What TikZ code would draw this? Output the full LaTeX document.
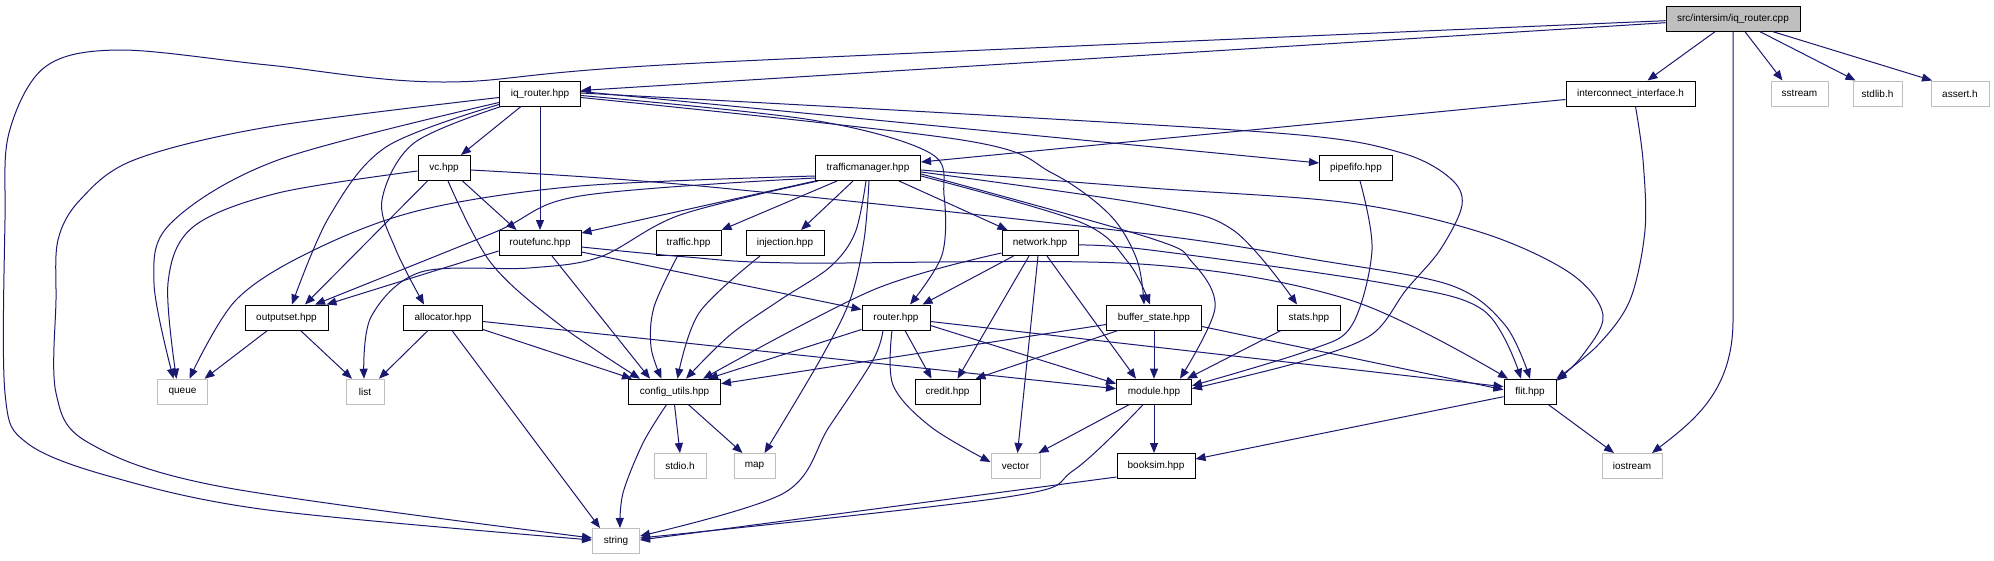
\documentclass[tikz,border=0pt]{standalone}
\usepackage{fontspec}
\setmainfont{Liberation Sans}
\usetikzlibrary{arrows.meta,calc}
\definecolor{eb}{HTML}{191970}
\definecolor{lg}{HTML}{BFBFBF}
\begin{document}
\begin{tikzpicture}[x=1pt,y=-1pt,
  hdr/.style={draw=black, line width=1pt, fill=white, minimum height=25pt, inner sep=0pt, font=\fontsize{10}{12}\selectfont},
  sys/.style={hdr, draw=lg},
  rootn/.style={hdr, fill=lg},
  e/.style={draw=eb, line width=1pt, -{Triangle[length=10pt,width=8pt]}},
  sm/.style={smooth, tension=0.55}]
\useasboundingbox (0,0) rectangle (1994,560);
\fill[white] (0,0) rectangle (1994,560);
% nodes
\node[rootn, minimum width=134pt] (root) at (1733,18.7) {src/intersim/iq\_router.cpp};
\node[hdr, minimum width=81pt] (iqh) at (540,93.5) {iq\_router.hpp};
\node[hdr, minimum width=129pt] (ii) at (1630.5,93.5) {interconnect\_interface.h};
\node[sys, minimum width=57pt] (sstream) at (1799.5,93.5) {sstream};
\node[sys, minimum width=49pt] (stdlib) at (1877.5,93.5) {stdlib.h};
\node[sys, minimum width=58pt] (assert) at (1960,93.5) {assert.h};
\node[hdr, minimum width=52pt] (vc) at (444,168) {vc.hpp};
\node[hdr, minimum width=105pt] (tm) at (868,168) {trafficmanager.hpp};
\node[hdr, minimum width=73pt] (pipefifo) at (1356,168) {pipefifo.hpp};
\node[hdr, minimum width=82pt] (routefunc) at (540,243) {routefunc.hpp};
\node[hdr, minimum width=65pt] (traffic) at (688.5,243) {traffic.hpp};
\node[hdr, minimum width=78pt] (injection) at (785,243) {injection.hpp};
\node[hdr, minimum width=76pt] (network) at (1040,243) {network.hpp};
\node[hdr, minimum width=83pt] (outputset) at (286.5,317.5) {outputset.hpp};
\node[hdr, minimum width=79pt] (allocator) at (443,317.5) {allocator.hpp};
\node[hdr, minimum width=68pt] (router) at (896,317.5) {router.hpp};
\node[hdr, minimum width=95pt] (bs) at (1154,317.5) {buffer\_state.hpp};
\node[hdr, minimum width=63pt] (stats) at (1309,317.5) {stats.hpp};
\node[sys, minimum width=50pt] (queue) at (182.5,391.7) {queue};
\node[sys, minimum width=38pt] (list) at (365,391.7) {list};
\node[hdr, minimum width=92pt] (cu) at (674.5,391.7) {config\_utils.hpp};
\node[hdr, minimum width=65pt] (credit) at (947.5,391.7) {credit.hpp};
\node[hdr, minimum width=75pt] (module) at (1154,391.7) {module.hpp};
\node[hdr, minimum width=52pt] (flit) at (1530,391.7) {flit.hpp};
\node[sys, minimum width=52pt] (stdio) at (680,466) {stdio.h};
\node[sys, minimum width=41pt] (map) at (754.5,466) {map};
\node[sys, minimum width=49pt] (vector) at (1015.5,466) {vector};
\node[hdr, minimum width=78pt] (booksim) at (1156,466) {booksim.hpp};
\node[sys, minimum width=60pt] (iostream) at (1632,466) {iostream};
\node[sys, minimum width=47pt] (string) at (616,541) {string};
% edges from root
\draw[e] plot[sm] coordinates {($(root.west)+(0,2)$) (700,63) (446,82) (268,65) (120,50) (45,67) (9,133) (5,220) (5,393) (27,443) (112,477) (268,510) ($(string.west)+(0,-1)$)};
\draw[e] ($(root.west)+(0,4)$) -- ($(iqh.east)+(0,-3)$);
\draw[e] ($(root.south)+(-18,0)$) -- ($(ii.north)+(17,0)$);
\draw[e] ($(root.south)+(12,0)$) -- ($(sstream.north)+(-17,0)$);
\draw[e] ($(root.south)+(27,0)$) -- ($(stdlib.north)+(-22,0)$);
\draw[e] ($(root.south)+(40,0)$) -- ($(assert.north)+(-28,0)$);
\draw[e] (root.south) -- (1733,320) .. controls (1733,390) and (1695,420) .. ($(iostream.north)+(20,0)$);
% interconnect_interface
\draw[e] ($(ii.west)+(0,6)$) -- ($(tm.east)+(0,-6)$);
\draw[e] plot[sm] coordinates {($(ii.south)+(5,0)$) (1643,160) (1645,230) (1630,300) (1598,345) (flit.north east)};
% iq_router.hpp
\draw[e] plot[sm] coordinates {($(iqh.west)+(0,4)$) (268,127) (134,160) (80,200) (58,240) (56,300) (56,393) (89,443) (223,487) ($(string.west)+(0,-3)$)};
\draw[e] plot[sm] coordinates {($(iqh.west)+(0,9)$) (278,160) (171,223) (154,283) ($(queue.north)+(-9,0)$)};
\draw[e] plot[sm] coordinates {($(iqh.west)+(0,11)$) (386,147) (329,217) ($(outputset.north)+(5.5,0)$)};
\draw[e] plot[sm] coordinates {($(iqh.south west)+(2,0)$) (414,143) (382,200) (396,250) ($(allocator.north west)+(21,0)$)};
\draw[e] ($(iqh.south)+(-19,0)$) -- ($(vc.north)+(17,0)$);
\draw[e] (iqh.south) -- (routefunc.north);
\draw[e] ($(iqh.east)+(0,-2)$) -- ($(pipefifo.west)+(0,-5)$);
\draw[e] plot[sm] coordinates {($(iqh.east)+(0,-0.5)$) (1000,116) (1300,135) (1402,153) (1450,178) (1462,205) (1440,250) (1406,290) (1371,335) (1300,362) ($(module.east)+(0,-3)$)};
\draw[e] plot[sm] coordinates {($(iqh.east)+(0,2)$) (812,120) (930,153) (944,195) (942,255) ($(router.north)+(14,0)$)};
\draw[e] plot[sm] coordinates {($(iqh.east)+(0,4)$) (962,140) (1052,173) (1110,215) (1137,260) ($(bs.north)+(-10,0)$)};
% vc.hpp
\draw[e] plot[sm] coordinates {($(vc.west)+(0,3)$) (278,193) (193,227) (168,283) ($(queue.north)+(-6,0)$)};
\draw[e] ($(vc.south west)+(10,0)$) -- ($(outputset.north)+(18.5,0)$);
\draw[e] ($(vc.south east)+(-8,0)$) -- ($(routefunc.north west)+(18,0)$);
\draw[e] plot[sm] coordinates {($(vc.south)+(4,0)$) (491,263) (560,325) ($(cu.north west)+(12,0)$)};
\draw[e] plot[sm] coordinates {($(vc.east)+(0,2)$) (700,186) (1140,233) (1317,260) (1450,285) (1505,325) (flit.north)};
% trafficmanager.hpp
\draw[e] plot[sm] coordinates {($(tm.west)+(0,8)$) (580,186) (421,210) (314,250) (236,300) ($(queue.north)+(7,0)$)};
\draw[e] plot[sm] coordinates {($(tm.west)+(0,10)$) (580,196) (493,233) ($(outputset.north)+(28.5,0)$)};
\draw[e] (tm.south west) -- ($(routefunc.east)+(0,-10)$);
\draw[e] plot[sm] coordinates {($(tm.south west)+(3,0)$) (680,215) (600,257) (529,268) (421,272) (371,317) ($(list.north)+(-1,0)$)};
\draw[e] ($(tm.south west)+(22,0)$) -- (traffic.north east);
\draw[e] ($(tm.south west)+(38,0)$) -- ($(injection.north)+(16,0)$);
\draw[e] plot[sm] coordinates {($(tm.south)+(-2,0)$) (855,233) (830,267) (780,300) (730,335) ($(cu.north)+(11.5,0)$)};
\draw[e] plot[sm] coordinates {($(tm.south)+(1,0)$) (864,240) (850,300) (820,360) ($(map.north)+(10,0)$)};
\draw[e] ($(tm.south east)+(-22,0)$) -- ($(network.north west)+(6,0)$);
\draw[e] plot[sm] coordinates {($(tm.east)+(0,8)$) (1080,222) (1128,262) ($(bs.north)+(-4,0)$)};
\draw[e] plot[sm] coordinates {($(tm.east)+(0,6)$) (1150,238) (1192,262) (1215,308) ($(module.north east)+(-12,0)$)};
\draw[e] plot[sm] coordinates {($(tm.east)+(0,4)$) (1150,205) (1233,230) ($(stats.north)+(-12,0)$)};
\draw[e] plot[sm] coordinates {($(tm.east)+(0,2)$) (1150,188) (1350,203) (1483,233) (1570,273) (1603,315) (1582,356) ($(flit.north east)+(0,2)$)};
% pipefifo
\draw[e] plot[sm] coordinates {($(pipefifo.south)+(4,0)$) (1372,250) (1352,325) (1310,350) ($(module.east)+(0,-6)$)};
% routefunc
\draw[e] ($(routefunc.west)+(0,8)$) -- ($(outputset.north east)+(-2,0)$);
\draw[e] ($(routefunc.south)+(12,0)$) -- ($(cu.north west)+(22,0)$);
\draw[e] ($(routefunc.east)+(0,9)$) -- ($(router.west)+(0,-8)$);
\draw[e] plot[sm] coordinates {($(routefunc.east)+(0,4)$) (687,257) (794,263) (1140,264) (1350,300) ($(flit.north)+(-22,0)$)};
% traffic, injection
\draw[e] plot[sm] coordinates {($(traffic.south)+(-11,0)$) (654,307) (651,347) ($(cu.north)+(-13,0)$)};
\draw[e] plot[sm] coordinates {($(injection.south)+(-25,0)$) (699,313) ($(cu.north)+(3,0)$)};
% network
\draw[e] plot[sm] coordinates {($(network.west)+(0,10)$) (873,290) ($(cu.north)+(28.5,0)$)};
\draw[e] ($(network.south west)+(12,0)$) -- ($(router.north east)+(-8,0)$);
\draw[e] ($(network.south)+(-11,0)$) -- ($(credit.north)+(10,0)$);
\draw[e] ($(network.south)+(-2,0)$) -- ($(vector.north)+(2,0)$);
\draw[e] ($(network.south)+(7,0)$) -- ($(module.north west)+(20,0)$);
\draw[e] plot[sm] coordinates {($(network.east)+(0,2)$) (1150,250) (1383,283) (1483,310) ($(flit.north)+(-9,0)$)};
% outputset, allocator
\draw[e] ($(outputset.south west)+(23,0)$) -- ($(queue.north)+(22,0)$);
\draw[e] ($(outputset.south)+(14,0)$) -- ($(list.north)+(-13,0)$);
\draw[e] ($(allocator.south)+(-15,0)$) -- ($(list.north)+(14,0)$);
\draw[e] ($(allocator.south east)+(0,-1)$) -- ($(cu.north west)+(4,0)$);
\draw[e] ($(allocator.east)+(0,4)$) -- ($(module.west)+(0,-3)$);
\draw[e] ($(allocator.south)+(9,0)$) -- ($(string.north)+(-16,0)$);
% router
\draw[e] ($(router.south west)+(0,-1)$) -- ($(cu.north)+(33.5,0)$);
\draw[e] plot[sm] coordinates {($(router.south)+(-13,0)$) (873,360) (829,427) (784,493) ($(string.east)+(0,-5)$)};
\draw[e] plot[sm] coordinates {($(router.south)+(-4,0)$) (893,385) (931,427) ($(vector.west)+(0,-4)$)};
\draw[e] ($(router.south)+(9,0)$) -- ($(credit.north)+(-16,0)$);
\draw[e] ($(router.east)+(0,8)$) -- ($(module.west)+(0,-8)$);
\draw[e] ($(router.east)+(0,4)$) -- ($(flit.west)+(0,-5)$);
% buffer_state
\draw[e] ($(bs.west)+(0,7)$) -- ($(cu.east)+(0,-8)$);
\draw[e] ($(bs.south west)+(12,0)$) -- ($(credit.north east)+(-5,0)$);
\draw[e] (bs.south) -- (module.north);
\draw[e] ($(bs.east)+(0,9)$) -- ($(flit.west)+(0,-2)$);
% stats
\draw[e] ($(stats.south west)+(4,0)$) -- ($(module.north east)+(-5,0)$);
% config_utils
\draw[e] plot[sm] coordinates {($(cu.south)+(-8,0)$) (643,443) (623,493) ($(string.north)+(4,0)$)};
\draw[e] (cu.south) -- (stdio.north);
\draw[e] ($(cu.south)+(14,0)$) -- ($(map.north)+(-12,0)$);
% module
\draw[e] ($(module.south west)+(13,0)$) -- ($(vector.north east)+(-2,0)$);
\draw[e] plot[sm] coordinates {($(module.south)+(-11,0)$) (1074,470) (1007,497) ($(string.east)+(0,-3)$)};
\draw[e] (module.south) -- ($(booksim.north)+(-2,0)$);
% flit
\draw[e] ($(flit.west)+(0,5)$) -- ($(booksim.east)+(0,-7)$);
\draw[e] ($(flit.south east)+(-8,0)$) -- ($(iostream.north)+(-18,0)$);
% booksim
\draw[e] ($(booksim.south west)+(0,-2)$) -- ($(string.east)+(0,-1)$);
\end{tikzpicture}
\end{document}
